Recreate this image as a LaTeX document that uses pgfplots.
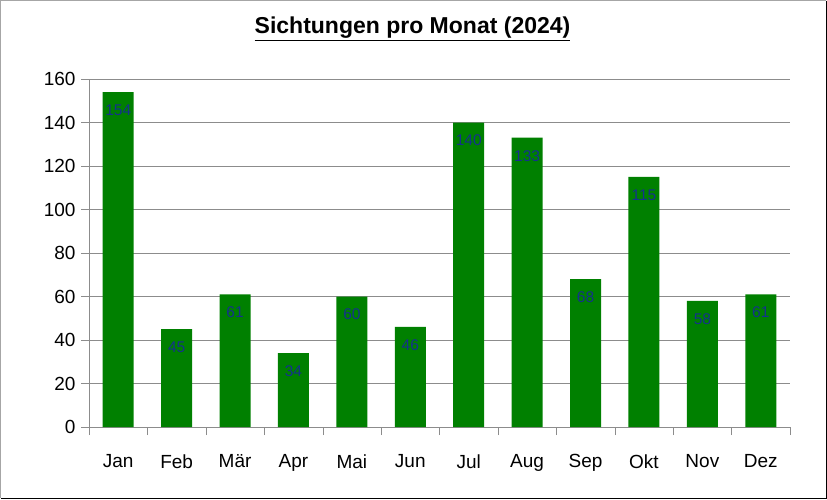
\documentclass[border=0pt]{standalone}
\usepackage{fontspec}
\setmainfont{Liberation Sans}
\usepackage{pgfplots}
\pgfplotsset{compat=1.18}
\definecolor{bargreen}{RGB}{0,128,0}
\definecolor{lblblue}{RGB}{20,50,140}
\definecolor{gridgray}{RGB}{140,140,140}
\begin{document}
\begin{tikzpicture}
\useasboundingbox (-89pt,-72pt) rectangle (738pt,427pt);
\begin{axis}[
  scale only axis,
  width=701pt, height=348pt,
  xmin=-0.5, xmax=11.5,
  ymin=0, ymax=160,
  ytick={0,20,...,160},
  xtick={0,...,11},
  xticklabels={Jan,Feb,Mär,Apr,Mai,Jun,Jul,Aug,Sep,Okt,Nov,Dez},
  minor xtick={-0.5,0.5,...,11.5},
  major x tick style={draw=none},
  minor x tick style={draw=gridgray},
  y tick style={draw=gridgray},
  tick align=outside,
  major tick length=8pt,
  minor tick length=8pt,
  xtick pos=bottom, ytick pos=left,
  ymajorgrids,
  grid style={gridgray, line width=0.8pt},
  axis x line*=bottom, axis y line*=left,
  axis line style={gridgray, line width=0.8pt, -},
  ticklabel style={font=\fontsize{19}{21}\selectfont},
  /pgf/number format/assume math mode=true,
  xticklabel style={yshift=-16pt},
  yticklabel style={xshift=-2pt},
  ybar, bar width=31pt,
  nodes near coords,
  nodes near coords style={font=\fontsize{15.5}{17}\selectfont, text=lblblue, anchor=center, yshift=-18pt},
]
\addplot[fill=bargreen, draw=none] coordinates {
(0,154) (1,45) (2,61) (3,34) (4,60) (5,46) (6,140) (7,133) (8,68) (9,115) (10,58) (11,61)};
\end{axis}
\node[font=\fontsize{23}{26}\selectfont\bfseries, inner sep=0pt] at (323.5pt,398pt) {\underline{Sichtungen pro Monat (2024)}};
\draw[gray!70, line width=1.5pt] (-88.25pt,-71.25pt) -- (-88.25pt,426.25pt) -- (737.25pt,426.25pt);
\draw[black, line width=1.5pt] (737.25pt,426.25pt) -- (737.25pt,-71.25pt) -- (-88.25pt,-71.25pt);
\end{tikzpicture}
\end{document}
